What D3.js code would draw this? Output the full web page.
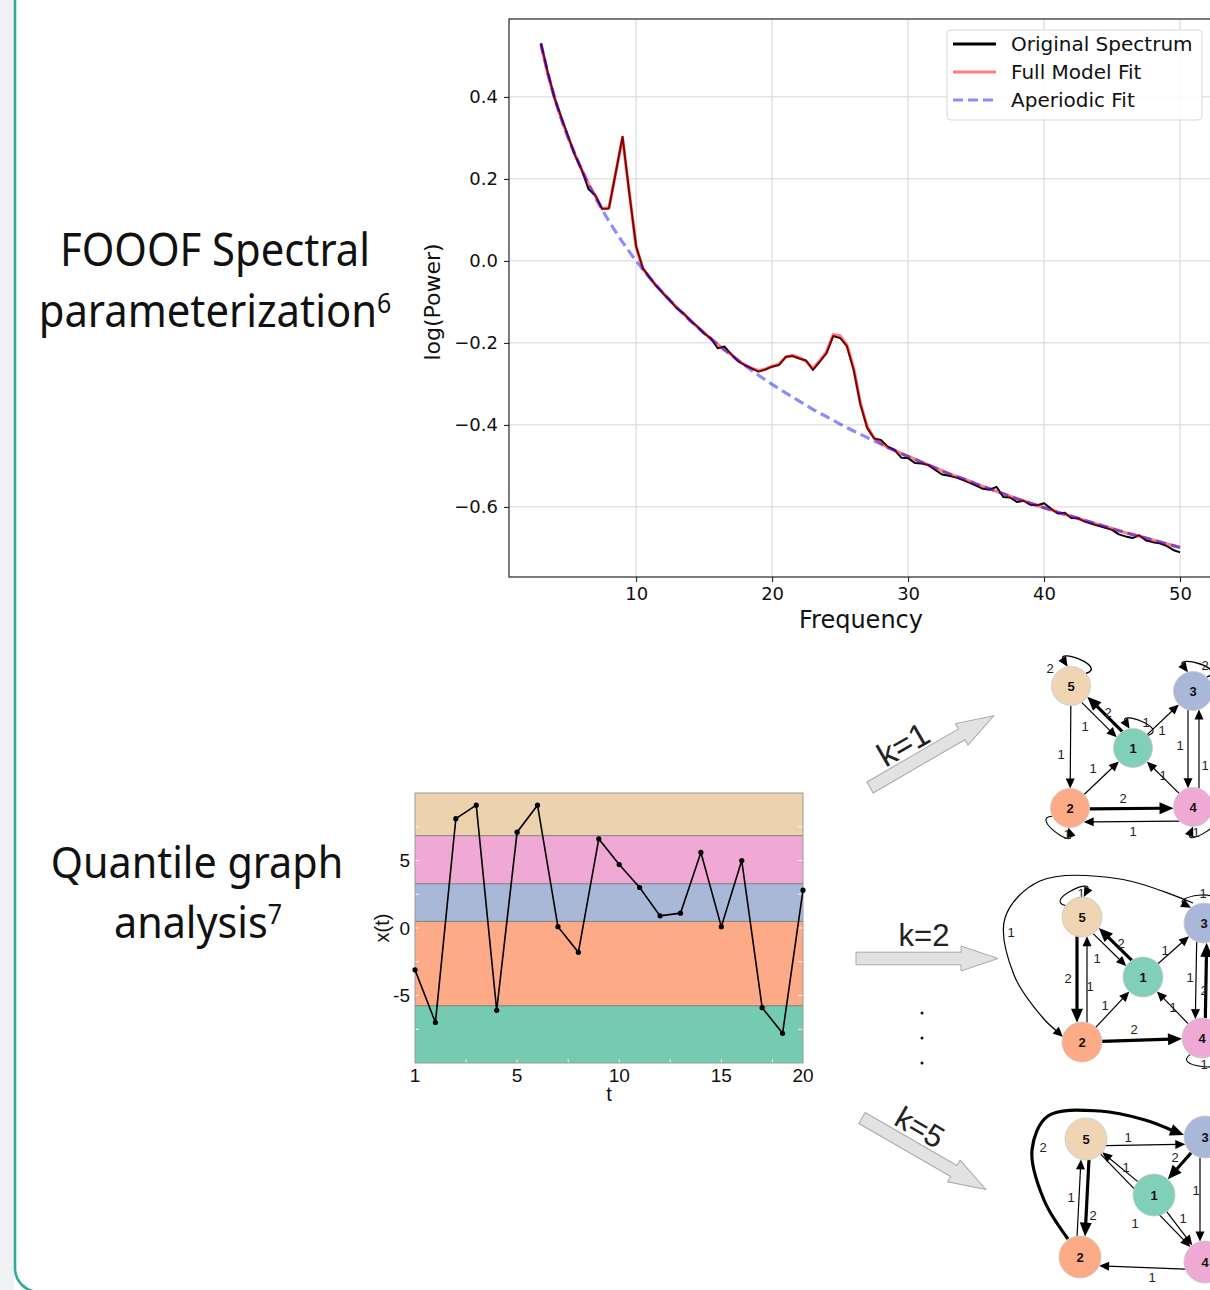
<!DOCTYPE html>
<html>
<head>
<meta charset="utf-8">
<script src="https://cdn.jsdelivr.net/npm/d3@7"></script>
<style>
  body { margin: 0; background: #fff; }
  svg { display: block; }
</style>
</head>
<body>
<div id="fig"></div>
<script>
// ---- FOOOF spectrum ----
var freqs = d3.range(3, 50.01, 0.5);
var powerSpectrum = [
  0.531, 0.460, 0.397, 0.350, 0.304, 0.258, 0.222, 0.175, 0.160, 0.127,
  0.128, 0.215, 0.303, 0.165, 0.035, -0.018, -0.040, -0.062, -0.080, -0.097,
  -0.116, -0.128, -0.146, -0.160, -0.177, -0.189, -0.213, -0.209, -0.228, -0.245,
  -0.254, -0.262, -0.270, -0.265, -0.258, -0.254, -0.234, -0.232, -0.238, -0.243,
  -0.266, -0.246, -0.225, -0.183, -0.188, -0.208, -0.266, -0.351, -0.408, -0.433,
  -0.437, -0.453, -0.461, -0.480, -0.481, -0.493, -0.494, -0.498, -0.510, -0.521,
  -0.524, -0.528, -0.534, -0.541, -0.548, -0.556, -0.558, -0.551, -0.576, -0.577,
  -0.588, -0.585, -0.595, -0.596, -0.591, -0.604, -0.616, -0.614, -0.627, -0.628,
  -0.636, -0.641, -0.646, -0.651, -0.656, -0.667, -0.672, -0.676, -0.669, -0.682,
  -0.686, -0.689, -0.695, -0.705, -0.711
];
var modelFit = [
  0.529, 0.456, 0.398, 0.347, 0.301, 0.260, 0.222, 0.187, 0.158, 0.127,
  0.130, 0.215, 0.300, 0.165, 0.035, -0.020, -0.041, -0.061, -0.079, -0.097,
  -0.114, -0.130, -0.146, -0.161, -0.176, -0.190, -0.204, -0.217, -0.228, -0.243,
  -0.254, -0.262, -0.268, -0.264, -0.257, -0.252, -0.235, -0.230, -0.236, -0.245,
  -0.262, -0.244, -0.222, -0.180, -0.183, -0.205, -0.262, -0.348, -0.405, -0.432,
  -0.444, -0.455, -0.462, -0.470, -0.477, -0.484, -0.491, -0.498, -0.505, -0.512,
  -0.519, -0.525, -0.531, -0.537, -0.544, -0.550, -0.556, -0.562, -0.568, -0.574,
  -0.580, -0.585, -0.591, -0.596, -0.602, -0.607, -0.613, -0.618, -0.623, -0.628,
  -0.633, -0.638, -0.643, -0.648, -0.653, -0.658, -0.663, -0.667, -0.672, -0.676,
  -0.681, -0.685, -0.690, -0.694, -0.699
];
var apFreqs = d3.range(3, 51, 1);
var aperiodicFit = [
  0.529, 0.398, 0.301, 0.222, 0.155, 0.097, 0.046, 0.000, -0.041, -0.079,
  -0.114, -0.146, -0.176, -0.204, -0.230, -0.255, -0.279, -0.301, -0.322, -0.342,
  -0.362, -0.380, -0.398, -0.415, -0.431, -0.447, -0.462, -0.477, -0.491, -0.505,
  -0.519, -0.531, -0.544, -0.556, -0.568, -0.580, -0.591, -0.602, -0.613, -0.623,
  -0.633, -0.643, -0.653, -0.663, -0.672, -0.681, -0.690, -0.699
];
var specXTicks = [10, 20, 30, 40, 50];
var specYTicks = [-0.6, -0.4, -0.2, 0.0, 0.2, 0.4];
var legendLabels = ["Original Spectrum", "Full Model Fit", "Aperiodic Fit"];

// ---- quantile graph time series ----
var qTime = d3.range(0, 20);
var qValues = [-3.1, -7.0, 8.1, 9.1, -6.1, 7.1, 9.1, 0.1, -1.8, 6.6,
               4.7, 3.0, 0.9, 1.1, 5.6, 0.1, 5.0, -5.9, -7.8, 2.8];
var qBounds = [-10, -5.76, 0.49, 3.28, 6.84, 10];
var qColors = ["#74cbb1", "#fdab86", "#aab8d8", "#f0a9d4", "#ecd3ad"];
var qXTickVals = [0, 5, 10, 15, 19];
var qXTickLabels = ["1", "5", "10", "15", "20"];
var qYTicks = [-5, 0, 5];

// ---- transition graphs (from, to, weight) ----
var nodeColors = {1: "#80cfb8", 2: "#fcab86", 3: "#a9b7d8", 4: "#eeaad4", 5: "#efd5b3"};
var g1Edges = [[5,2,1],[5,1,1],[1,5,2],[1,3,1],[2,1,1],[4,1,1],[2,4,2],[4,2,1],[3,4,1],[4,3,1]];
var g1Loops = [[5,2],[1,1],[3,2],[2,1],[4,1]];
var g2Edges = [[5,1,1],[1,5,2],[5,2,2],[2,5,1],[2,1,1],[1,3,1],[4,1,1],[2,4,2],[3,4,1],[4,3,2],[3,2,1]];
var g2Loops = [[5,1],[3,1],[4,1]];
var g3Edges = [[5,3,1],[3,1,2],[1,5,1],[5,2,2],[2,5,1],[5,4,1],[1,4,1],[3,4,1],[4,2,1],[2,3,2]];
var g3Loops = [];
var lagLabels = ["k=1", "k=2", "k=5"];

var W = 1210, H = 1290;
var svg = d3.select("#fig").append("svg").attr("width", W).attr("height", H);
svg.append("rect").attr("width", W).attr("height", H).attr("fill", "#fff");

// card edge at the left
svg.append("rect").attr("x", 0).attr("y", 0).attr("width", 14).attr("height", H).attr("fill", "#f0f1f3");
svg.append("path")
  .attr("d", "M15,-5 L15,1268 A24,24 0 0 0 39,1292 L1215,1292")
  .attr("fill", "none").attr("stroke", "#33a99c").attr("stroke-width", 2.6);

function stretchText(g, x, y, str, size, family, anchor) {
  return g.append("text")
    .attr("transform", "translate(" + x + "," + y + ") scale(1,1.07)")
    .attr("text-anchor", anchor || "middle")
    .attr("font-family", family).attr("font-size", size)
    .attr("fill", "#111").text(str);
}

// titles on the left
var tf = "'Noto Sans', 'Open Sans', sans-serif";
stretchText(svg, 215, 266, "FOOOF Spectral", 41.8, tf);
var t2 = stretchText(svg, 215, 327, "parameterization", 41.8, tf);
t2.append("tspan").attr("font-size", 25).attr("dy", -13).text("6");
stretchText(svg, 197, 878, "Quantile graph", 41.3, tf);
var t4 = stretchText(svg, 198, 938, "analysis", 41.3, tf);
t4.append("tspan").attr("font-size", 25).attr("dy", -13).text("7");

// ================= spectrum plot =================
var sp = svg.append("g");
var sx = d3.scaleLinear().domain([0.65, 52.35]).range([509, 1212]);
var sy = d3.scaleLinear().domain([-0.771, 0.59]).range([577, 19]);
var mpl = "'DejaVu Sans', sans-serif";

sp.append("clipPath").attr("id", "specClip").append("rect")
  .attr("x", 509).attr("y", 19).attr("width", 703).attr("height", 558);

sp.append("g").selectAll("line.gx").data(specXTicks).enter().append("line")
  .attr("x1", d => sx(d)).attr("x2", d => sx(d)).attr("y1", 19).attr("y2", 577)
  .attr("stroke", "#d6d6d6").attr("stroke-width", 1);
sp.append("g").selectAll("line.gy").data(specYTicks).enter().append("line")
  .attr("x1", 509).attr("x2", 1212).attr("y1", d => sy(d)).attr("y2", d => sy(d))
  .attr("stroke", "#d6d6d6").attr("stroke-width", 1);

var plotG = sp.append("g").attr("clip-path", "url(#specClip)");
var lineSpec = d3.line().x((d, i) => sx(freqs[i])).y(d => sy(d));
var lineAp = d3.line().x((d, i) => sx(apFreqs[i])).y(d => sy(d)).curve(d3.curveMonotoneX);

plotG.append("path").datum(powerSpectrum).attr("d", lineSpec)
  .attr("fill", "none").attr("stroke", "#000").attr("stroke-width", 2).attr("stroke-linejoin", "round");
plotG.append("path").datum(modelFit).attr("d", lineSpec)
  .attr("fill", "none").attr("stroke", "#ff0000").attr("stroke-opacity", 0.5).attr("stroke-width", 3.2)
  .attr("stroke-linejoin", "round");
plotG.append("path").datum(aperiodicFit).attr("d", lineAp)
  .attr("fill", "none").attr("stroke", "#0000ff").attr("stroke-opacity", 0.45).attr("stroke-width", 3.2)
  .attr("stroke-dasharray", "10,5");

// axes frame
sp.append("rect").attr("x", 509).attr("y", 19).attr("width", 703).attr("height", 558)
  .attr("fill", "none").attr("stroke", "#111").attr("stroke-width", 1.1);

var yAx = sp.append("g").attr("transform", "translate(509,0)")
  .call(d3.axisLeft(sy).tickValues(specYTicks).tickSize(5).tickPadding(6)
    .tickFormat(d => d3.format(".1f")(d).replace("-", "\u2212")));
var xAx = sp.append("g").attr("transform", "translate(0,577)")
  .call(d3.axisBottom(sx).tickValues(specXTicks).tickSize(5).tickPadding(5).tickFormat(d3.format("d")));
[yAx, xAx].forEach(function (a) {
  a.select(".domain").remove();
  a.selectAll("text").attr("font-family", mpl).attr("font-size", 18).attr("fill", "#111");
  a.selectAll("line").attr("stroke", "#111");
});

sp.append("text").attr("x", 861).attr("y", 628).attr("text-anchor", "middle")
  .attr("font-family", mpl).attr("font-size", 24).attr("fill", "#111").text("Frequency");
sp.append("text").attr("transform", "translate(440,302) rotate(-90)").attr("text-anchor", "middle")
  .attr("font-family", mpl).attr("font-size", 22).attr("fill", "#111").text("log(Power)");

// legend
var lg = sp.append("g");
lg.append("rect").attr("x", 947).attr("y", 30).attr("width", 255).attr("height", 90).attr("rx", 4)
  .attr("fill", "#fff").attr("fill-opacity", 0.85).attr("stroke", "#d8d8d8");
var legStyles = [
  {c: "#000", o: 1, dash: null},
  {c: "#ff0000", o: 0.5, dash: null},
  {c: "#0000ff", o: 0.45, dash: "10,5"}
];
legendLabels.forEach(function (lab, i) {
  var yy = 44 + i * 28;
  lg.append("line").attr("x1", 953).attr("x2", 996).attr("y1", yy).attr("y2", yy)
    .attr("stroke", legStyles[i].c).attr("stroke-opacity", legStyles[i].o)
    .attr("stroke-width", 3).attr("stroke-dasharray", legStyles[i].dash);
  lg.append("text").attr("x", 1011).attr("y", yy + 7).attr("font-family", mpl)
    .attr("font-size", 20).attr("fill", "#111").text(lab);
});

// ================= quantile time series =================
var qp = svg.append("g");
var qx = d3.scaleLinear().domain([0, 19]).range([415, 803]);
var qy = d3.scaleLinear().domain([-10, 10]).range([1063, 793]);
var arial = "'Liberation Sans', Arial, sans-serif";

qp.selectAll("rect.band").data(qColors).enter().append("rect")
  .attr("x", qx(0)).attr("width", qx(19) - qx(0))
  .attr("y", (d, i) => qy(qBounds[i + 1])).attr("height", (d, i) => qy(qBounds[i]) - qy(qBounds[i + 1]))
  .attr("fill", d => d);
qp.selectAll("line.sep").data(qBounds.slice(1, -1)).enter().append("line")
  .attr("x1", qx(0)).attr("x2", qx(19)).attr("y1", d => qy(d)).attr("y2", d => qy(d))
  .attr("stroke", "#7d7d7d").attr("stroke-width", 1);

// little inner ticks
var inner = d3.range(-7.5, 7.6, 2.5);
qp.selectAll("line.ty").data(inner).enter().append("line")
  .attr("x1", qx(19) - 5).attr("x2", qx(19)).attr("y1", d => qy(d)).attr("y2", d => qy(d))
  .attr("stroke", "#f4f4f4").attr("stroke-width", 1);
qp.selectAll("line.tyl").data(inner).enter().append("line")
  .attr("x1", qx(0)).attr("x2", qx(0) + 4).attr("y1", d => qy(d)).attr("y2", d => qy(d))
  .attr("stroke", "#f4f4f4").attr("stroke-width", 1);
qp.selectAll("line.tx").data(d3.range(2.5, 19, 2.5)).enter().append("line")
  .attr("x1", d => qx(d)).attr("x2", d => qx(d)).attr("y1", qy(-10) - 4).attr("y2", qy(-10))
  .attr("stroke", "#e8e8e8").attr("stroke-width", 1);

qp.append("rect").attr("x", qx(0)).attr("y", qy(10)).attr("width", qx(19) - qx(0)).attr("height", qy(-10) - qy(10))
  .attr("fill", "none").attr("stroke", "#9a9a9a").attr("stroke-width", 1);

qp.append("path").datum(qValues)
  .attr("d", d3.line().x((d, i) => qx(qTime[i])).y(d => qy(d)))
  .attr("fill", "none").attr("stroke", "#000").attr("stroke-width", 1.6);
qp.selectAll("circle.pt").data(qValues).enter().append("circle")
  .attr("cx", (d, i) => qx(qTime[i])).attr("cy", d => qy(d)).attr("r", 2.6).attr("fill", "#000");

qp.selectAll("text.xl").data(qXTickVals).enter().append("text")
  .attr("x", d => qx(d)).attr("y", 1082).attr("text-anchor", "middle")
  .attr("font-family", arial).attr("font-size", 19).attr("fill", "#111")
  .text((d, i) => qXTickLabels[i]);
qp.selectAll("text.yl").data(qYTicks).enter().append("text")
  .attr("x", 410).attr("y", d => qy(d)).attr("dy", "0.36em").attr("text-anchor", "end")
  .attr("font-family", arial).attr("font-size", 19).attr("fill", "#111").text(d => d);
qp.append("text").attr("x", 609).attr("y", 1101).attr("text-anchor", "middle")
  .attr("font-family", arial).attr("font-size", 20).attr("fill", "#111").text("t");
qp.append("text").attr("transform", "translate(389,928) rotate(-90)").attr("text-anchor", "middle")
  .attr("font-family", arial).attr("font-size", 20).attr("fill", "#111").text("x(t)");

// ================= block arrows and lags =================
var ar = svg.append("g");
var arrowSpecs = [
  {tx: 870, ty: 787.5, rot: -30.1, len: 143},
  {tx: 856, ty: 958.5, rot: 0, len: 142},
  {tx: 862, ty: 1118, rot: 30, len: 143}
];
function blockArrow(L) {
  var sw = 6.3, hw = 12.5, hl = 37;
  return [[0, -sw], [L - hl, -sw], [L - hl, -hw], [L, 0], [L - hl, hw], [L - hl, sw], [0, sw]];
}
arrowSpecs.forEach(function (a) {
  ar.append("polygon")
    .attr("points", blockArrow(a.len).map(p => p.join(",")).join(" "))
    .attr("transform", "translate(" + a.tx + "," + a.ty + ") rotate(" + a.rot + ")")
    .attr("fill", "#e2e2e2").attr("stroke", "#a9a9a9").attr("stroke-width", 1);
});
var lagPos = [[903, 744, -30, 33], [924, 935, 0, 31], [920, 1127, 30, 31]];
lagLabels.forEach(function (s, i) {
  var p = lagPos[i];
  ar.append("text").attr("transform", "translate(" + p[0] + "," + p[1] + ") rotate(" + p[2] + ")")
    .attr("text-anchor", "middle").attr("dy", "0.36em")
    .attr("font-family", arial).attr("font-size", p[3]).attr("fill", "#222").text(s);
});
[1013, 1038, 1063].forEach(function (yy) {
  ar.append("circle").attr("cx", 922).attr("cy", yy).attr("r", 1.5).attr("fill", "#111");
});

// ================= directed graphs =================
var layouts = [
  {
    r: 19.5,
    pos: {1: [1133, 748], 2: [1070, 808], 3: [1193, 691], 4: [1193, 807], 5: [1071, 686]},
    edges: {
      "5-2": {off: 0, lab: [1061, 754]}, "5-1": {off: 4, lab: [1085, 726]},
      "1-5": {off: 4, lab: [1108, 712]}, "1-3": {off: 0, lab: [1162, 730]},
      "2-1": {off: 0, lab: [1093, 768]}, "4-1": {off: 0, lab: [1163, 775]},
      "2-4": {off: 1, lab: [1123, 798]}, "4-2": {off: -14, lab: [1133, 831]},
      "3-4": {off: 5, lab: [1180, 745]}, "4-3": {off: 6, lab: [1205, 765]}
    },
    loops: {
      5: {a: -70, end: -1, lab: [1050, 668]}, 1: {a: -70, end: -1, lab: [1146, 722]},
      3: {a: -75, end: -1, lab: [1205, 665]}, 2: {a: 125, end: -1, lab: [1067, 834]},
      4: {a: 60, end: 1, lab: [1196, 832]}
    }
  },
  {
    r: 20,
    pos: {1: [1143, 977], 2: [1082, 1042], 3: [1204, 923], 4: [1202, 1038], 5: [1082, 917]},
    edges: {
      "5-1": {off: 4, lab: [1097, 958]}, "1-5": {off: 4, lab: [1121, 943]},
      "5-2": {off: 5, lab: [1068, 978]}, "2-5": {off: 5, lab: [1090, 986]},
      "2-1": {off: 0, lab: [1105, 1005]}, "1-3": {off: 0, lab: [1165, 950]},
      "4-1": {off: 0, lab: [1173, 1007]}, "2-4": {off: 0, lab: [1134, 1029]},
      "3-4": {off: 7, lab: [1190, 977]}, "4-3": {off: 3, lab: [1204, 990]},
      "3-2": {pts: [[1193, 903], [1120, 879], [1040, 881], [1005, 918], [1014, 975], [1043, 1018], [1063, 1037]],
              lab: [1011, 932]}
    },
    loops: {
      5: {a: -115, end: 1, lab: [1081, 893]}, 3: {a: -100, end: -1, lab: [1203, 893]},
      4: {a: 95, end: -1, lab: [1204, 1064]}
    }
  },
  {
    r: 21,
    pos: {1: [1154, 1195], 2: [1080, 1257], 3: [1205, 1137], 4: [1205, 1262], 5: [1086, 1139]},
    edges: {
      "5-3": {off: 7, lab: [1128, 1137]}, "3-1": {off: 0, lab: [1175, 1157]},
      "1-5": {off: 0, lab: [1126, 1167]}, "5-2": {off: -4, lab: [1093, 1215]},
      "2-5": {off: -4, lab: [1071, 1197]}, "5-4": {off: 0, lab: [1135, 1223]},
      "1-4": {off: 0, lab: [1183, 1218]}, "3-4": {off: 5, lab: [1196, 1190]},
      "4-2": {off: -8, lab: [1152, 1277]},
      "2-3": {pts: [[1068, 1239], [1044, 1200], [1032, 1150], [1048, 1116], [1100, 1111], [1145, 1120], [1184, 1135]],
              lab: [1043, 1147]}
    },
    loops: {}
  }
];
var graphEdges = [g1Edges, g2Edges, g3Edges];
var graphLoops = [g1Loops, g2Loops, g3Loops];

function head(g, tip, ux, uy, w) {
  var len = w > 1 ? 14 : 10, half = w > 1 ? 6 : 4.5;
  var bx = tip[0] - ux * len, by = tip[1] - uy * len;
  g.append("polygon")
    .attr("points", [tip, [bx - uy * half, by + ux * half], [bx + uy * half, by - ux * half]].map(p => p.join(",")).join(" "))
    .attr("fill", "#000");
  return [bx + ux * 2, by + uy * 2];
}

layouts.forEach(function (lay, gi) {
  var g = svg.append("g");
  var r = lay.r;
  graphEdges[gi].forEach(function (e) {
    var key = e[0] + "-" + e[1], L = lay.edges[key], w = e[2];
    var sw = w > 1 ? 3.2 : 1.2;
    if (L.pts) {
      var pts = L.pts.slice();
      var a = pts[pts.length - 2], b = pts[pts.length - 1];
      var d = Math.hypot(b[0] - a[0], b[1] - a[1]);
      var base = head(g, b, (b[0] - a[0]) / d, (b[1] - a[1]) / d, w);
      pts[pts.length - 1] = base;
      g.append("path").attr("d", d3.line().curve(d3.curveCatmullRom)(pts))
        .attr("fill", "none").attr("stroke", "#000").attr("stroke-width", sw);
    } else {
      var p1 = lay.pos[e[0]], p2 = lay.pos[e[1]];
      var dx = p2[0] - p1[0], dy = p2[1] - p1[1], dl = Math.hypot(dx, dy);
      var ux = dx / dl, uy = dy / dl, nx = -uy, ny = ux, off = L.off;
      var k = Math.sqrt(Math.max(r * r - off * off, 0));
      var s = [p1[0] + ux * k + nx * off, p1[1] + uy * k + ny * off];
      var t = [p2[0] - ux * k + nx * off, p2[1] - uy * k + ny * off];
      var bs = head(g, t, ux, uy, w);
      g.append("line").attr("x1", s[0]).attr("y1", s[1]).attr("x2", bs[0]).attr("y2", bs[1])
        .attr("stroke", "#000").attr("stroke-width", sw);
    }
    g.append("text").attr("x", L.lab[0]).attr("y", L.lab[1]).attr("dy", "0.36em").attr("text-anchor", "middle")
      .attr("font-family", arial).attr("font-size", 13).attr("fill", "#222").text(w);
  });
  graphLoops[gi].forEach(function (lp) {
    var L = lay.loops[lp[0]], c = lay.pos[lp[0]];
    var rad = Math.PI / 180;
    var a0 = (L.a - L.end * 30) * rad, a1 = (L.a + L.end * 30) * rad;
    var c0 = (L.a - L.end * 42) * rad, c1 = (L.a + L.end * 42) * rad;
    var p0 = [c[0] + r * Math.cos(a0), c[1] + r * Math.sin(a0)];
    var p3 = [c[0] + r * Math.cos(a1), c[1] + r * Math.sin(a1)];
    var q1 = [c[0] + (r + 22) * Math.cos(c0), c[1] + (r + 22) * Math.sin(c0)];
    var q2 = [c[0] + (r + 22) * Math.cos(c1), c[1] + (r + 22) * Math.sin(c1)];
    var d = Math.hypot(p3[0] - q2[0], p3[1] - q2[1]);
    var hb = head(g, p3, (p3[0] - q2[0]) / d, (p3[1] - q2[1]) / d, 1);
    g.append("path").attr("d", "M" + p0 + " C" + q1 + " " + q2 + " " + hb)
      .attr("fill", "none").attr("stroke", "#000").attr("stroke-width", lp[1] > 1 ? 1.4 : 1.1);
    g.append("text").attr("x", L.lab[0]).attr("y", L.lab[1]).attr("dy", "0.36em").attr("text-anchor", "middle")
      .attr("font-family", arial).attr("font-size", 13).attr("fill", "#222").text(lp[1]);
  });
  var ids = [1, 2, 3, 4, 5];
  g.selectAll("circle.node").data(ids).enter().append("circle")
    .attr("cx", d => lay.pos[d][0]).attr("cy", d => lay.pos[d][1]).attr("r", r)
    .attr("fill", d => nodeColors[d]).attr("stroke", "#c9c9c9").attr("stroke-width", 0.8);
  g.selectAll("text.node").data(ids).enter().append("text")
    .attr("x", d => lay.pos[d][0]).attr("y", d => lay.pos[d][1]).attr("dy", "0.36em")
    .attr("text-anchor", "middle").attr("font-family", arial).attr("font-weight", "bold")
    .attr("font-size", 13).attr("fill", "#111").text(d => d);
});
</script>
</body>
</html>
